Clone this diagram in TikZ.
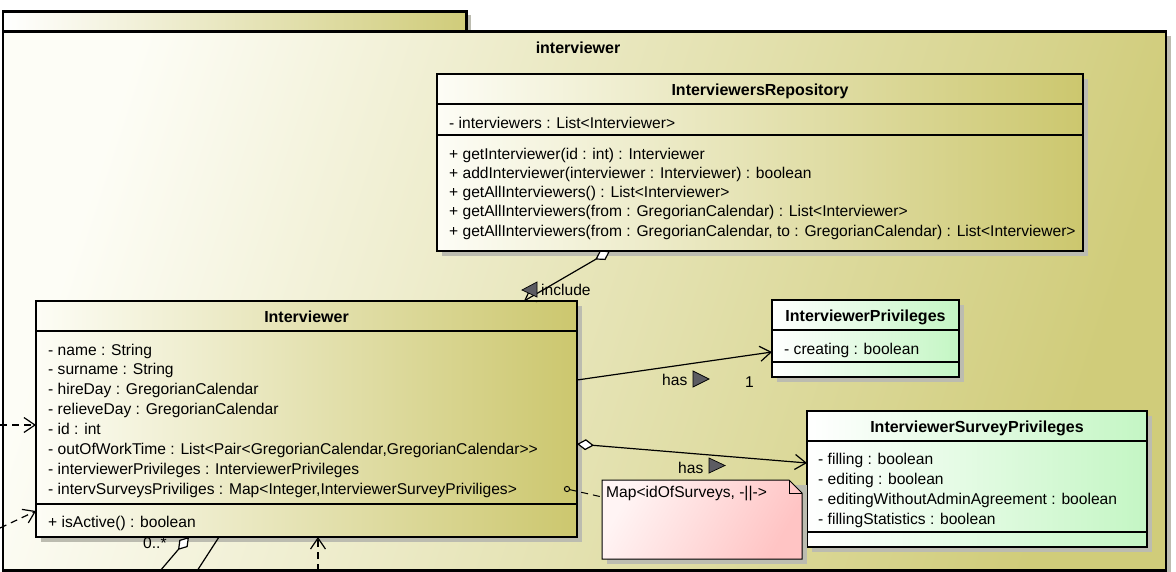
\documentclass[tikz,border=0pt]{standalone}
\usepackage{fontspec}
\setmainfont{Liberation Sans}
\usetikzlibrary{arrows.meta}
\definecolor{oliveb}{RGB}{204,199,110}
\definecolor{olivep}{RGB}{208,204,122}
\definecolor{paleolive}{RGB}{253,253,246}
\definecolor{mint}{RGB}{196,246,196}
\definecolor{pinkc}{RGB}{255,196,196}
\definecolor{pinkl}{RGB}{255,244,244}
\definecolor{shadowc}{RGB}{188,188,176}
\definecolor{trigrey}{RGB}{92,92,98}
\tikzset{
  lbl/.style={font=\fontsize{15.6}{18}\selectfont, inner sep=0pt, anchor=base west},
  ttl/.style={font=\fontsize{16}{18}\selectfont\bfseries, inner sep=0pt, anchor=base},
  olivebox/.style={draw=black, line width=2.6pt, inner sep=0pt, outer sep=0pt, anchor=north west, left color=paleolive, right color=oliveb},
  greenbox/.style={draw=black, line width=2.6pt, inner sep=0pt, outer sep=0pt, anchor=north west, left color=white, right color=mint},
  sepline/.style={line width=1.1pt},
  conn/.style={line width=1.2pt, draw=black},
  dconn/.style={conn, dash pattern=on 7pt off 5pt},
  barb/.style={-{Straight Barb[length=11pt,width=15pt]}},
  tri/.style={fill=trigrey, draw=black, line width=0.7pt},
}
\begin{document}
\begin{tikzpicture}[x=1pt,y=-1pt]
\useasboundingbox (0,0) rectangle (1176,571);
\fill[white] (0,0) rectangle (1176,571);
% tab
\fill[shadowc] (6,15) rectangle (471,35);
\node[draw=black, line width=2.8pt, inner sep=0pt, anchor=north west, minimum width=463.5, minimum height=20, left color=white, right color=olivep] (tab) at (1.5,10) {};
% package
\fill[shadowc] (7,36) rectangle (1171,576);
\node[draw=black, line width=2.8pt, inner sep=0pt, anchor=north west, minimum width=1163, minimum height=539, left color=paleolive, right color=olivep, shading angle=72] (pkg) at (1.5,30) {};
\node[ttl] (pkgT) at (578,53.5) {interviewer};

% InterviewersRepository
\fill[shadowc] (442,79) rectangle (1088,256);
\node[olivebox, minimum width=646, minimum height=177] (repo) at (437,74) {};
\draw[sepline] (repo.north west |- 0,104) -- (repo.north east |- 0,104);
\draw[sepline] (repo.north west |- 0,135) -- (repo.north east |- 0,135);
\node[ttl] (repoT) at (760,95.5) {InterviewersRepository};
\node[lbl] (repoA1) at (449,128) {- interviewers : List<Interviewer>};
\node[lbl] (repoM1) at (449,159) {+ getInterviewer(id : int) : Interviewer};
\node[lbl] (repoM2) at (449,178.3) {+ addInterviewer(interviewer : Interviewer) : boolean};
\node[lbl] (repoM3) at (449,197.6) {+ getAllInterviewers() : List<Interviewer>};
\node[lbl] (repoM4) at (449,216.9) {+ getAllInterviewers(from : GregorianCalendar) : List<Interviewer>};
\node[lbl] (repoM5) at (449,236.2) {+ getAllInterviewers(from : GregorianCalendar, to : GregorianCalendar) : List<Interviewer>};

% Interviewer
\fill[shadowc] (41,306) rectangle (582,542);
\node[olivebox, minimum width=541, minimum height=236] (intv) at (36,301) {};
\draw[sepline] (intv.north west |- 0,331) -- (intv.north east |- 0,331);
\draw[sepline] (intv.north west |- 0,504) -- (intv.north east |- 0,504);
\node[ttl] (intvT) at (306.5,322.5) {Interviewer};
\node[lbl] (intvA1) at (48,355) {- name : String};
\node[lbl] (intvA2) at (48,374.9) {- surname : String};
\node[lbl] (intvA3) at (48,394.7) {- hireDay : GregorianCalendar};
\node[lbl] (intvA4) at (48,414.6) {- relieveDay : GregorianCalendar};
\node[lbl] (intvA5) at (48,434.4) {- id : int};
\node[lbl] (intvA6) at (48,454.3) {- outOfWorkTime : List<Pair<GregorianCalendar,GregorianCalendar>{}>};
\node[lbl] (intvA7) at (48,474.1) {- interviewerPrivileges : InterviewerPrivileges};
\node[lbl] (intvA8) at (48,494) {- intervSurveysPriviliges : Map<Integer,InterviewerSurveyPriviliges>};
\node[lbl] (intvM1) at (48,527) {+ isActive() : boolean};
\node[lbl] (mult0) at (143,548) {0..*};

% InterviewerPrivileges
\fill[shadowc] (777,305) rectangle (964,382);
\node[greenbox, minimum width=187, minimum height=77] (ip) at (772,300) {};
\draw[sepline] (ip.north west |- 0,330) -- (ip.north east |- 0,330);
\draw[sepline] (ip.north west |- 0,362) -- (ip.north east |- 0,362);
\node[ttl] (ipT) at (865.5,321.5) {InterviewerPrivileges};
\node[lbl] (ipA1) at (784,354) {- creating : boolean};

% InterviewerSurveyPrivileges
\fill[shadowc] (812,416) rectangle (1152,552);
\node[greenbox, minimum width=340, minimum height=136] (isp) at (807,411) {};
\draw[sepline] (isp.north west |- 0,441) -- (isp.north east |- 0,441);
\draw[sepline] (isp.north west |- 0,532) -- (isp.north east |- 0,532);
\node[ttl] (ispT) at (977,432.5) {InterviewerSurveyPrivileges};
\node[lbl] (ispA1) at (818,464) {- filling : boolean};
\node[lbl] (ispA2) at (818,484) {- editing : boolean};
\node[lbl] (ispA3) at (818,504) {- editingWithoutAdminAgreement : boolean};
\node[lbl] (ispA4) at (818,524) {- fillingStatistics : boolean};

% note
\fill[shadowc] (607,485) -- (807,485) -- (807,564) -- (607,564) -- cycle;
\shade[left color=pinkl, right color=pinkc, shading angle=60, draw=black, line width=1pt] (602,480) -- (789,480) -- (802,493) -- (802,559) -- (602,559) -- cycle;
\draw[line width=1pt] (789,480) -- (789,493) -- (802,493);
\node[lbl] (noteT) at (606,497) {Map<idOfSurveys, -||->};

% connectors
\coordinate (incA) at ([xshift=173pt]repo.south west);
\coordinate (incB) at ([xshift=488pt]intv.north west);
\draw[conn, {Diamond[fill=white,length=17pt,width=11pt]}-{Straight Barb[length=10pt,width=14pt]}] (incA) -- (incB);
\filldraw[tri] (522,290) -- (537,282) -- (537,297) -- cycle;
\node[lbl] (incL) at (541,295) {include};

\draw[conn, barb] (intv.north east |- 0,380) -- (ip.north west |- 0,352);
\node[lbl] (has1) at (662,385) {has};
\filldraw[tri] (693,371) -- (709,379) -- (693,387) -- cycle;
\node[lbl] (one) at (745,387) {1};

\draw[conn, {Diamond[fill=white,length=17pt,width=11pt]}-{Straight Barb[length=11pt,width=15pt]}] (intv.north east |- 0,444) -- (isp.north west |- 0,463);
\node[lbl] (has2) at (678,473) {has};
\filldraw[tri] (709,458) -- (725,465.5) -- (709,473) -- cycle;

\coordinate (nA) at (567,489);
\coordinate (nB) at (602,497);
\draw[line width=1pt] (nA) circle (2.6pt);
\draw[dconn, line width=1pt, shorten <=2.6pt] (nA) -- (nB);

\coordinate (lA1) at (0,425);
\coordinate (lA2) at (0,528);
\draw[dconn, barb] (lA1) -- (intv.north west |- 0,425);
\draw[dconn, barb] (lA2) -- (intv.north west |- 0,511);

\coordinate (bD) at ([xshift=153pt]intv.south west);
\coordinate (bDe) at (160,571);
\coordinate (bL) at ([xshift=183pt]intv.south west);
\coordinate (bLe) at (197,571);
\coordinate (bV) at ([xshift=282pt]intv.south west);
\coordinate (bVe) at (318,571);
\draw[conn, {Diamond[fill=white,length=17pt,width=11pt]}-] (bD) -- (bDe);
\draw[conn] (bL) -- (bLe);
\draw[dconn, barb] (bVe) -- (bV);
\end{tikzpicture}
\end{document}
